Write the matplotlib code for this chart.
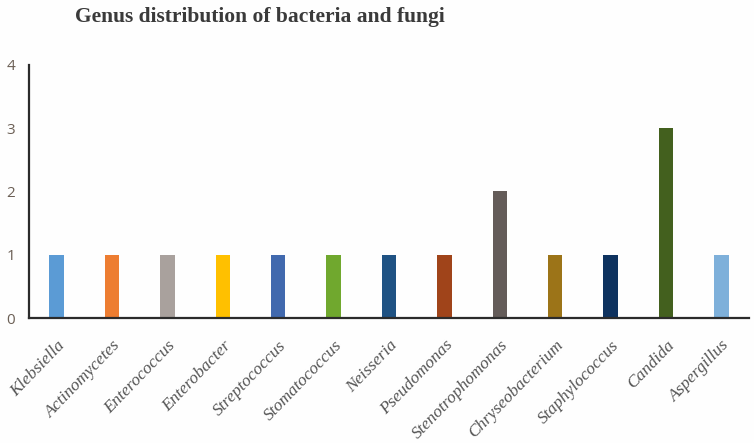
import matplotlib
matplotlib.use("Agg")
import matplotlib.pyplot as plt

genera = ["Klebsiella", "Actinomycetes", "Enterococcus", "Enterobacter", "Streptococcus",
          "Stomatococcus", "Neisseria", "Pseudomonas", "Stenotrophomonas", "Chryseobacterium",
          "Staphylococcus", "Candida", "Aspergillus"]
counts = [1, 1, 1, 1, 1, 1, 1, 1, 2, 1, 1, 3, 1]
colors = ["#5B9BD5", "#ED7D31", "#A9A19D", "#FFC000", "#4169AE", "#70A82E", "#1F5283",
          "#A0441A", "#645C59", "#9C7418", "#0E325F", "#43601E", "#7EB0DA"]
yticks = [0, 1, 2, 3, 4]

fig = plt.figure(figsize=(7.54, 4.43), dpi=100)
fig.patch.set_facecolor("#FEFEFE")
ax = fig.add_axes([29 / 754, 1 - 318 / 443, 720 / 754, 253 / 443])
ax.set_facecolor("#FEFEFE")

x = list(range(len(genera)))
ax.bar(x, counts, width=0.26, color=colors, zorder=2)

ax.set_xlim(-0.5, 12.5)
ax.set_ylim(0, 4)
ax.set_yticks(yticks)
ax.set_yticklabels([str(v) for v in yticks], family="Open Sans", fontsize=11, color="#6B5F55")
ax.tick_params(axis="y", length=0, pad=10)
ax.set_xticks(x)
ax.set_xticklabels(genera, rotation=46, ha="right", va="top", rotation_mode="anchor",
                   family="Liberation Serif", style="italic", fontsize=12.5, color="#555555")
ax.tick_params(axis="x", length=0, pad=14)

for side in ["top", "right"]:
    ax.spines[side].set_visible(False)
for side in ["left", "bottom"]:
    ax.spines[side].set_color("#2B2B2B")
    ax.spines[side].set_linewidth(1.6)

fig.text(260 / 754, 1 - 17 / 443, "Genus distribution of bacteria and fungi",
         ha="center", va="center", family="Liberation Serif", fontweight="bold",
         fontsize=15.5, color="#3A3A3A")

plt.savefig("out.png", dpi=100, facecolor=fig.get_facecolor())
